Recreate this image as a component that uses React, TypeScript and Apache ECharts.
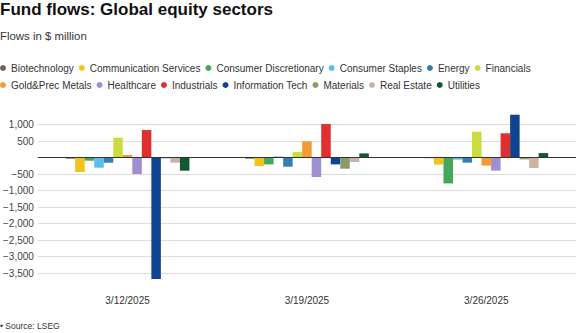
import React, { useEffect, useRef } from "react";
import * as echarts from "echarts";

const categories = ["3/12/2025", "3/19/2025", "3/26/2025"];

const seriesNames = [
  "Biotechnology",
  "Communication Services",
  "Consumer Discretionary",
  "Consumer Staples",
  "Energy",
  "Financials",
  "Gold&Prec Metals",
  "Healthcare",
  "Industrials",
  "Information Tech",
  "Materials",
  "Real Estate",
  "Utilities",
];

const seriesColors = [
  "#6f645b",
  "#f3c31c",
  "#43a85a",
  "#58bfea",
  "#327fb5",
  "#cbdc42",
  "#f39a31",
  "#9e8fcf",
  "#df2f2f",
  "#104490",
  "#8c9a6a",
  "#c9b3a5",
  "#0f5a2e",
];

const biotechnology = [-30, -30, -15];
const communicationServices = [-434, -252, -210];
const consumerDiscretionary = [-91, -202, -780];
const consumerStaples = [-303, 40, -60];
const energy = [-152, -273, -150];
const financials = [606, 172, 790];
const goldPrecMetals = [81, 495, -240];
const healthcare = [-495, -586, -390];
const industrials = [838, 1020, 740];
const informationTech = [-3675, -202, 1300];
const materials = [-20, -333, -50];
const realEstate = [-152, -131, -310];
const utilities = [-394, 131, 140];

const seriesValues = [
  biotechnology,
  communicationServices,
  consumerDiscretionary,
  consumerStaples,
  energy,
  financials,
  goldPrecMetals,
  healthcare,
  industrials,
  informationTech,
  materials,
  realEstate,
  utilities,
];

const yMin = -4000;
const yMax = 1500;
const yInterval = 500;

const fmt = (v: number) => {
  if (v === 0 || v === yMin || v === yMax) return "";
  const s = Math.abs(v).toLocaleString("en-US");
  return v < 0 ? "\u2212" + s : s;
};

export default function App() {
  const ref = useRef<HTMLDivElement>(null);
  useEffect(() => {
    if (!ref.current) return;
    const chart = echarts.init(ref.current, null, { renderer: "svg" });
    const font = "Liberation Sans, Arial, Helvetica, sans-serif";
    const legendCommon = {
      orient: "horizontal",
      left: 0,
      padding: 0,
      itemGap: 5,
      itemWidth: 6,
      itemHeight: 6,
      icon: "circle",
      textStyle: { fontSize: 10, color: "#333", fontFamily: font },
      selectedMode: false,
    };
    chart.setOption({
      animation: false,
      textStyle: { fontFamily: font },
      title: [
        {
          text: "Fund flows: Global equity sectors",
          left: 0,
          top: 1,
          padding: 0,
          textStyle: { fontSize: 17, fontWeight: "bold", color: "#111", fontFamily: font },
        },
        {
          text: "Flows in $ million",
          left: 0,
          top: 30,
          padding: 0,
          textStyle: { fontSize: 11.4, fontWeight: "normal", color: "#333", fontFamily: font },
        },
      ],
      legend: [
        { ...legendCommon, top: 63, data: seriesNames.slice(0, 6) },
        { ...legendCommon, top: 80, data: seriesNames.slice(6) },
      ],
      grid: { left: 35, right: 0, top: 108.2, bottom: 43.3, containLabel: false },
      xAxis: {
        type: "category",
        data: categories,
        axisLine: { show: false, onZero: false },
        axisTick: { show: false },
        axisLabel: { fontSize: 10, color: "#333", margin: 6, fontFamily: font },
      },
      yAxis: {
        type: "value",
        min: yMin,
        max: yMax,
        interval: yInterval,
        axisLine: { show: false },
        axisTick: { show: false },
        axisLabel: { fontSize: 10, color: "#444", margin: 4, formatter: fmt, fontFamily: font },
        splitLine: {
          show: true,
          showMinLine: false,
          showMaxLine: false,
          lineStyle: { color: "#dcdcdc", width: 1 },
        },
      },
      series: seriesNames.map((name, i) => ({
        name,
        type: "bar",
        data: seriesValues[i],
        itemStyle: { color: seriesColors[i] },
        barGap: "0%",
        barCategoryGap: "31%",
        ...(i === seriesNames.length - 1
          ? {
              markLine: {
                silent: true,
                symbol: "none",
                label: { show: false },
                lineStyle: { color: "#333", width: 1, type: "solid" },
                data: [{ yAxis: 0 }],
              },
            }
          : {}),
      })),
      graphic: [
        {
          type: "text",
          left: 0,
          top: 321,
          style: { text: "\u2022 Source: LSEG", fontSize: 8.5, fill: "#333", fontFamily: font },
        },
      ],
    });
    return () => chart.dispose();
  }, []);
  return (
    <div
      ref={ref}
      style={{ position: "absolute", left: 0, top: 0, width: 576, height: 333 }}
    />
  );
}
